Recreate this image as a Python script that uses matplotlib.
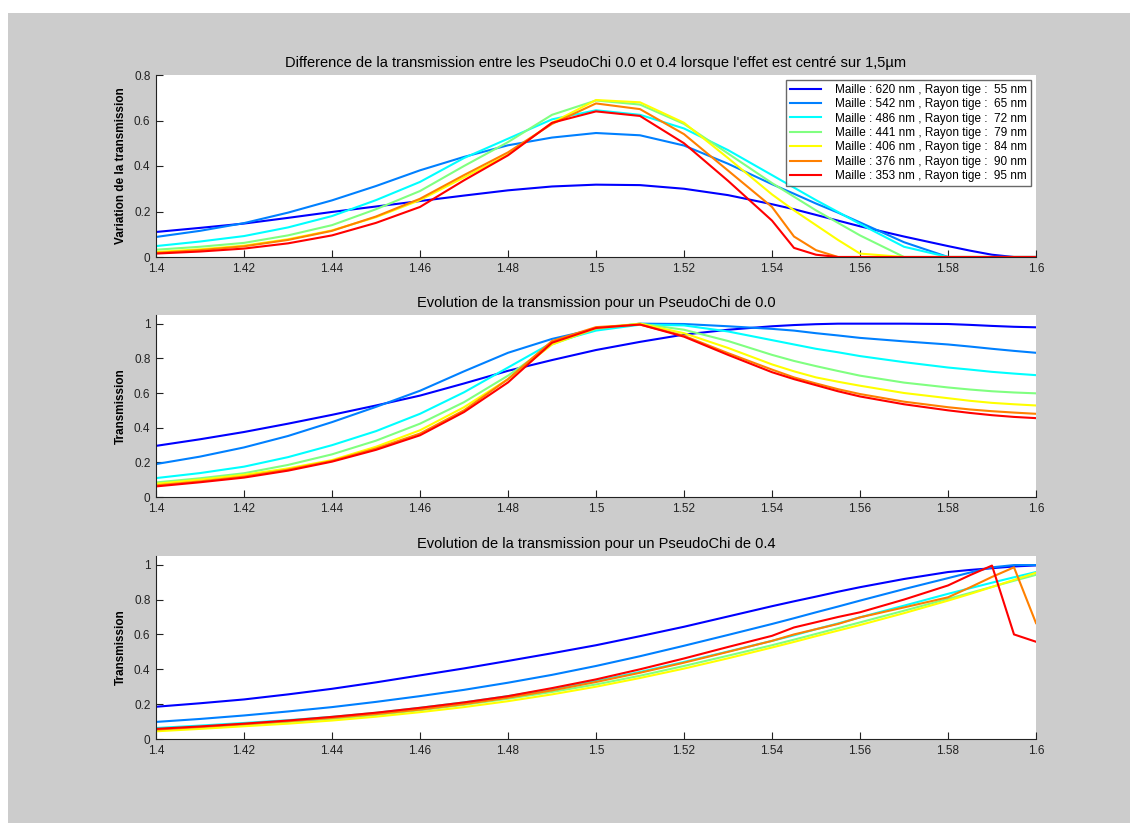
import matplotlib
matplotlib.use('Agg')
import matplotlib.pyplot as plt
from matplotlib.patches import Rectangle

plt.rcParams['font.family'] = ['Liberation Sans', 'DejaVu Sans']

# wavelength grid (um)
lam = [1.40, 1.41, 1.42, 1.43, 1.44, 1.45, 1.46, 1.47, 1.48, 1.49, 1.50, 1.51, 1.52,
       1.53, 1.54, 1.545, 1.55, 1.555, 1.56, 1.57, 1.58, 1.585, 1.59, 1.595, 1.60]

labels = [
    'Maille : 620 nm , Rayon tige :  55 nm',
    'Maille : 542 nm , Rayon tige :  65 nm',
    'Maille : 486 nm , Rayon tige :  72 nm',
    'Maille : 441 nm , Rayon tige :  79 nm',
    'Maille : 406 nm , Rayon tige :  84 nm',
    'Maille : 376 nm , Rayon tige :  90 nm',
    'Maille : 353 nm , Rayon tige :  95 nm',
]
colors = [(0, 0, 1), (0, 0.5, 1), (0, 1, 1), (0.5, 1, 0.5), (1, 1, 0), (1, 0.5, 0), (1, 0, 0)]

# difference 0.0 - 0.4
diff_620 = [.110, .128, .147, .172, .198, .222, .246, .270, .293, .310, .318, .316, .300,
            .272, .232, .210, .185, .160, .135, .090, .048, .028, .010, 0, 0]
diff_542 = [.088, .115, .149, .195, .249, .312, .381, .440, .491, .525, .545, .535, .490,
            .410, .320, .278, .235, .195, .152, .065, 0, 0, 0, 0, 0]
diff_486 = [.048, .068, .092, .130, .180, .250, .330, .435, .520, .605, .645, .625, .565,
            .470, .360, .305, .250, .198, .145, .045, 0, 0, 0, 0, 0]
diff_441 = [.032, .045, .062, .095, .140, .210, .290, .400, .505, .625, .688, .670, .585,
            .455, .325, .265, .205, .150, .095, 0, 0, 0, 0, 0, 0]
diff_406 = [.022, .034, .050, .078, .117, .175, .250, .350, .450, .590, .690, .680, .590,
            .435, .275, .205, .140, .075, .015, 0, 0, 0, 0, 0, 0]
diff_376 = [.018, .030, .047, .075, .115, .178, .256, .360, .460, .585, .675, .650, .540,
            .380, .220, .090, .030, 0, 0, 0, 0, 0, 0, 0, 0]
diff_353 = [.015, .024, .037, .060, .095, .150, .220, .337, .447, .590, .640, .620, .500,
            .335, .160, .040, .010, 0, 0, 0, 0, 0, 0, 0, 0]

# transmission PseudoChi 0.0
t0_620 = [.295, .333, .375, .423, .474, .528, .585, .655, .728, .790, .848, .895, .937,
          .965, .985, .992, .997, 1.0, 1.0, 1.0, .998, .993, .987, .982, .979]
t0_542 = [.190, .233, .286, .352, .432, .520, .613, .725, .832, .912, .970, 1.0, .998,
          .985, .970, .960, .945, .932, .918, .898, .880, .868, .855, .843, .832]
t0_486 = [.109, .138, .175, .230, .299, .380, .480, .604, .747, .890, .960, .994, .990,
          .955, .905, .880, .855, .835, .813, .778, .747, .735, .722, .712, .703]
t0_441 = [.084, .108, .137, .185, .246, .325, .423, .547, .700, .880, .970, 1.0, .965,
          .900, .820, .785, .755, .727, .700, .660, .632, .620, .610, .603, .598]
t0_406 = [.076, .100, .128, .165, .213, .290, .385, .518, .680, .880, .975, 1.0, .945,
          .860, .765, .725, .690, .665, .642, .600, .570, .555, .543, .535, .528]
t0_376 = [.067, .090, .118, .158, .208, .280, .366, .500, .680, .900, .980, .995, .930,
          .830, .735, .690, .655, .622, .594, .550, .518, .505, .495, .487, .480]
t0_353 = [.061, .085, .112, .152, .204, .272, .356, .490, .661, .890, .975, .995, .925,
          .820, .720, .680, .645, .610, .580, .535, .500, .485, .472, .462, .455]

# transmission PseudoChi 0.4
t4_620 = [.185, .205, .227, .256, .288, .325, .365, .405, .448, .492, .538, .590, .644,
          .703, .762, .790, .817, .845, .871, .918, .958, .970, .980, .990, .996]
t4_542 = [.098, .115, .135, .158, .183, .213, .246, .282, .323, .368, .419, .475, .535,
          .597, .660, .693, .727, .760, .794, .860, .923, .955, .985, .998, .998]
t4_486 = [.063, .077, .092, .108, .127, .150, .179, .210, .246, .287, .333, .385, .442,
          .502, .563, .595, .630, .663, .698, .765, .833, .865, .897, .928, .958]
t4_441 = [.054, .068, .083, .098, .115, .138, .165, .196, .231, .270, .313, .363, .419,
          .478, .538, .570, .603, .636, .669, .736, .804, .838, .873, .908, .942]
t4_406 = [.044, .058, .073, .088, .106, .128, .154, .183, .217, .256, .300, .350, .404,
          .463, .525, .557, .590, .622, .654, .722, .794, .832, .872, .913, .954]
t4_376 = [.054, .069, .085, .102, .121, .143, .169, .200, .237, .279, .327, .380, .438,
          .500, .563, .600, .630, .660, .698, .755, .813, .870, .930, .985, .665]
t4_353 = [.058, .072, .088, .106, .127, .151, .179, .210, .246, .292, .342, .400, .462,
          .528, .592, .640, .670, .700, .727, .800, .881, .940, .995, .600, .558]

panels = [
    ("Difference de la transmission entre les PseudoChi 0.0 et 0.4 lorsque l'effet est centré sur 1,5µm",
     'Variation de la transmission',
     [diff_620, diff_542, diff_486, diff_441, diff_406, diff_376, diff_353], 0.8),
    ('Evolution de la transmission pour un PseudoChi de 0.0', 'Transmission',
     [t0_620, t0_542, t0_486, t0_441, t0_406, t0_376, t0_353], 1.05),
    ('Evolution de la transmission pour un PseudoChi de 0.4', 'Transmission',
     [t4_620, t4_542, t4_486, t4_441, t4_406, t4_376, t4_353], 1.05),
]

W, H = 1130, 823
fig = plt.figure(figsize=(W / 100, H / 100), dpi=100, facecolor='white')
fig.patches.append(Rectangle((8 / W, 0), 1, 1 - 13 / H, transform=fig.transFigure,
                             facecolor='#cccccc', edgecolor='none', zorder=-10))

boxes = [(75, 257), (315, 497), (556, 739)]
xticks = [1.4 + 0.02 * i for i in range(11)]

for (title, ylab, series, ytop), (top, bot) in zip(panels, boxes):
    ax = fig.add_axes([156 / W, 1 - bot / H, 880 / W, (bot - top) / H])
    for y, c, lab in zip(series, colors, labels):
        ax.plot(lam, y, color=c, lw=1.5, label=lab)
    ax.set_xlim(1.4, 1.6)
    ax.set_ylim(0, ytop)
    ax.set_xticks(xticks)
    ax.set_xticklabels(['%g' % round(t, 2) for t in xticks])
    yt = [0, 0.2, 0.4, 0.6, 0.8] + ([1] if ytop > 1 else [])
    ax.set_yticks(yt)
    ax.set_yticklabels(['%g' % t for t in yt])
    ax.spines['top'].set_visible(False)
    ax.spines['right'].set_visible(False)
    ax.spines['left'].set_color('#222222')
    ax.spines['bottom'].set_color('#222222')
    ax.tick_params(direction='in', length=5, labelsize=8.5, colors='#222222', pad=4,
                   top=False, right=False)
    ax.set_title(title, fontsize=10.5, pad=6)
    ax.set_ylabel(ylab, fontsize=8.5, fontweight='bold', labelpad=5)
    if ytop < 1:
        leg = ax.legend(loc='upper right', fontsize=8.5, frameon=True, fancybox=False,
                        handlelength=2.6, borderpad=0.35, labelspacing=0.2,
                        handletextpad=1.2, borderaxespad=0.4)
        leg.get_frame().set_edgecolor('#444444')
        leg.get_frame().set_linewidth(1.0)

fig.savefig('out.png', dpi=100, facecolor=fig.get_facecolor())
